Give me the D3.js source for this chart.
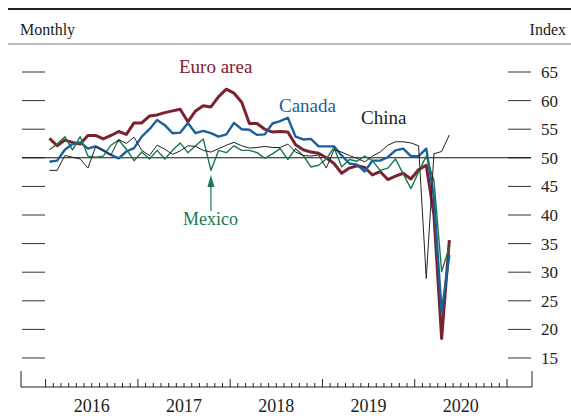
<!DOCTYPE html>
<html lang="en">
<head>
<meta charset="utf-8">
<title>Manufacturing PMIs</title>
<script src="https://cdn.jsdelivr.net/npm/d3@7/dist/d3.min.js"></script>
<style>
  body { margin: 0; background: #fff; }
  text { font-family: "Liberation Serif", "Times New Roman", serif; }
</style>
</head>
<body>
<script>
var w = 571;
var h = 416;

// monthly readings, Jan 2016 .. May 2020
var years = [2016, 2017, 2018, 2019, 2020];
var yTicks = [15, 20, 25, 30, 35, 40, 45, 50, 55, 60, 65];

var euro = [53.4, 52.1, 53.1, 52.7, 52.4, 53.9, 53.9, 53.3, 53.9, 54.6, 54.1, 56.1,
            56.1, 57.3, 57.5, 57.9, 58.2, 58.5, 56.3, 58.2, 59.1, 58.9, 60.7, 62.0,
            61.3, 59.7, 56.0, 56.0, 55.0, 54.5, 54.6, 54.5, 52.3, 51.4, 51.0, 50.8,
            50.0, 49.0, 47.3, 48.2, 48.6, 48.3, 47.0, 47.6, 46.2, 46.8, 47.3, 46.3,
            47.9, 48.7, 40.0, 18.4, 35.6];
var canada = [49.3, 49.5, 51.4, 52.4, 52.7, 51.6, 52.0, 51.3, 50.5, 49.9, 51.1, 51.7,
              53.7, 55.0, 56.6, 55.7, 54.3, 54.4, 56.1, 54.3, 54.7, 54.3, 53.7, 54.1,
              56.1, 55.0, 54.9, 54.0, 54.1, 56.0, 56.4, 57.0, 53.7, 53.2, 53.3, 52.0,
              52.0, 52.0, 50.4, 49.0, 48.8, 47.6, 49.5, 49.5, 50.1, 51.3, 51.6, 50.3,
              50.3, 51.6, 43.0, 23.0, 33.0];
var china = [47.8, 47.8, 50.4, 50.1, 49.8, 48.2, 51.9, 51.3, 50.5, 53.2, 52.5, 53.6,
             51.3, 50.4, 52.2, 51.5, 50.6, 51.2, 52.1, 52.0, 51.3, 51.0, 51.6, 52.2,
             52.7, 52.1, 51.7, 51.8, 52.0, 51.8, 51.8, 52.4, 51.0, 50.4, 50.3, 50.5,
             48.2, 51.4, 51.0, 50.4, 49.9, 49.3, 50.3, 51.0, 52.2, 52.8, 52.8, 52.6,
             52.1, 28.9, 50.7, 51.1, 54.0];
var mexico = [51.4, 52.4, 53.7, 51.4, 53.7, 50.3, 50.1, 50.3, 52.2, 53.1, 51.5, 49.5,
              51.0, 49.8, 51.3, 49.8, 51.3, 52.6, 50.9, 52.1, 53.3, 47.8, 51.3, 50.9,
              52.1, 51.3, 51.3, 50.9, 49.9, 50.7, 51.6, 49.7, 51.6, 50.4, 48.4, 48.7,
              49.8, 51.8, 48.4, 49.7, 49.4, 50.3, 49.5, 47.8, 48.2, 49.8, 47.2, 44.6,
              47.5, 50.3, 46.0, 30.1, 34.4];

var series = [
  {name: "Euro area", values: euro, color: "#7b2230", width: 3},
  {name: "Canada", values: canada, color: "#1b5f9c", width: 2.4},
  {name: "Mexico", values: mexico, color: "#18794e", width: 1.4},
  {name: "China", values: china, color: "#222", width: 1}
];

var svg = d3.select("body").append("svg")
  .attr("width", w)
  .attr("height", h);

// month index scale; 0 = start of Jan 2016
var x = d3.scaleLinear().domain([-3.2, 63.25]).range([21, 532]);
var y = d3.scaleLinear().domain([15, 65]).range([358, 72]);

// header rules
svg.append("line").attr("x1", 8).attr("x2", w).attr("y1", 9).attr("y2", 9)
  .attr("stroke", "#222").attr("stroke-width", 2);
svg.append("line").attr("x1", 8).attr("x2", w).attr("y1", 44).attr("y2", 44)
  .attr("stroke", "#777").attr("stroke-width", 1);
svg.append("text").attr("x", 20).attr("y", 35).attr("font-size", 16)
  .attr("fill", "#222").text("Monthly");
svg.append("text").attr("x", 566).attr("y", 35).attr("font-size", 16)
  .attr("text-anchor", "end").attr("fill", "#222").text("Index");

// y ticks both sides
svg.selectAll(".ltick").data(yTicks).enter().append("line")
  .attr("x1", 22).attr("x2", 45)
  .attr("y1", function(d) { return y(d); }).attr("y2", function(d) { return y(d); })
  .attr("stroke", "#333");
svg.selectAll(".rtick").data(yTicks).enter().append("line")
  .attr("x1", 508).attr("x2", 531)
  .attr("y1", function(d) { return y(d); }).attr("y2", function(d) { return y(d); })
  .attr("stroke", "#333");
svg.selectAll(".ylab").data(yTicks).enter().append("text")
  .attr("x", 541).attr("y", function(d) { return y(d) + 6; })
  .attr("font-size", 17).attr("fill", "#222")
  .text(function(d) { return d; });

// 50 line
svg.append("line").attr("x1", 22).attr("x2", 531).attr("y1", y(50)).attr("y2", y(50))
  .attr("stroke", "#111").attr("stroke-width", 1.1);

// x axis
var base = 387;
svg.append("line").attr("x1", x(-3.2)).attr("x2", x(63.25)).attr("y1", base).attr("y2", base)
  .attr("stroke", "#222");
[-3.2, 63.25].forEach(function(m) {
  svg.append("line").attr("x1", x(m)).attr("x2", x(m)).attr("y1", base - 16).attr("y2", base)
    .attr("stroke", "#222");
});
svg.selectAll(".mtick").data(d3.range(0, 61)).enter().append("line")
  .attr("x1", function(d) { return x(d); }).attr("x2", function(d) { return x(d); })
  .attr("y1", function(d) { return d % 12 === 0 ? base - 8 : base - 4; })
  .attr("y2", base)
  .attr("stroke", "#222");
svg.selectAll(".xlab").data(years).enter().append("text")
  .attr("x", function(d, i) { return x(i * 12 + 6); })
  .attr("y", 412)
  .attr("text-anchor", "middle").attr("font-size", 18).attr("fill", "#222")
  .text(function(d) { return d; });

// lines
var line = d3.line()
  .x(function(d, i) { return x(i + 0.5); })
  .y(function(d) { return y(d); });

svg.selectAll(".series").data(series).enter().append("path")
  .attr("d", function(d) { return line(d.values); })
  .attr("fill", "none")
  .attr("stroke", function(d) { return d.color; })
  .attr("stroke-width", function(d) { return d.width; })
  .attr("stroke-linejoin", "round");

// labels
var labelPos = {"Euro area": [179, 73], "Canada": [279, 112], "China": [361, 124], "Mexico": [183, 225]};
series.forEach(function(s) {
  svg.append("text")
    .attr("x", labelPos[s.name][0]).attr("y", labelPos[s.name][1])
    .attr("font-size", s.name === "Mexico" ? 18 : 19)
    .attr("fill", s.color)
    .text(s.name);
});

// arrow to Mexico dip
var mx = x(21.5);
svg.append("line").attr("x1", mx).attr("x2", mx).attr("y1", 211).attr("y2", 184)
  .attr("stroke", "#18794e").attr("stroke-width", 1.2);
svg.append("path")
  .attr("d", "M" + mx + ",175 L" + (mx - 3.5) + ",187 L" + (mx + 3.5) + ",187 Z")
  .attr("fill", "#18794e");
</script>
</body>
</html>
